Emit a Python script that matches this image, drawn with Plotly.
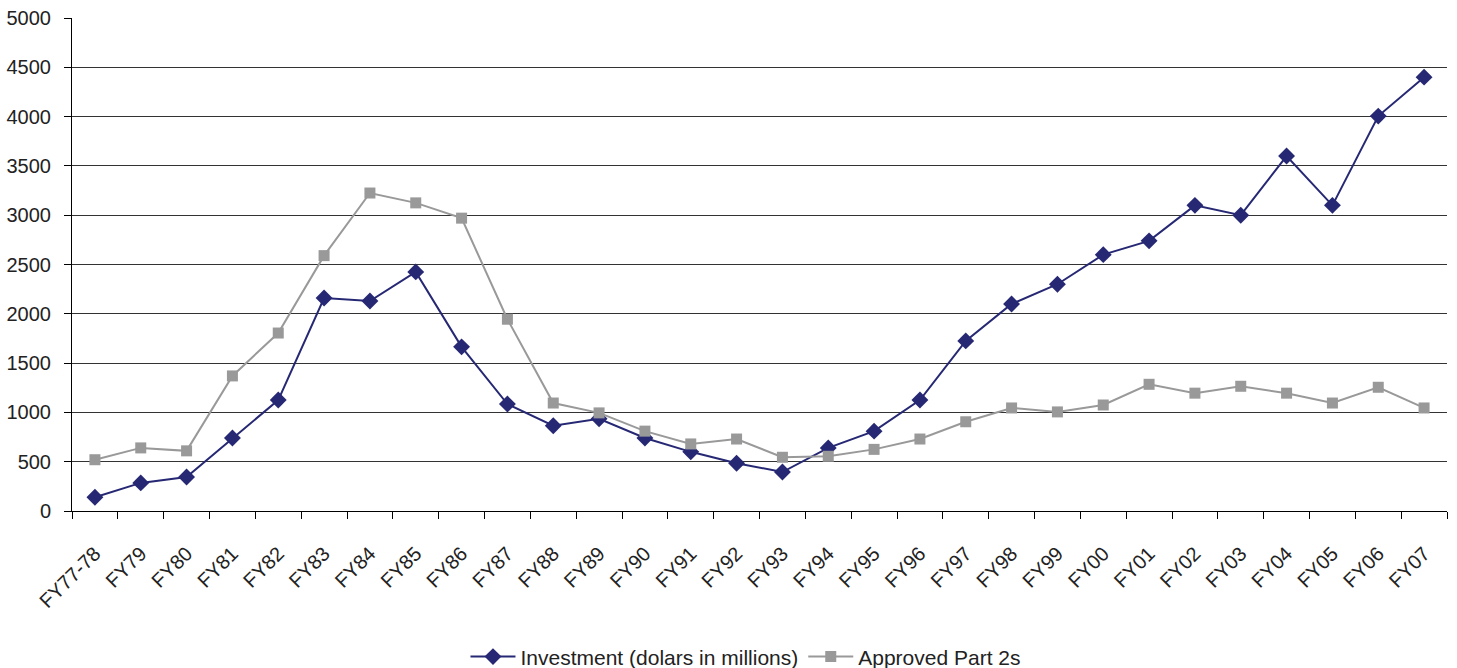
import plotly.graph_objects as go

years = ["FY77-78", "FY79", "FY80", "FY81", "FY82", "FY83", "FY84", "FY85", "FY86",
         "FY87", "FY88", "FY89", "FY90", "FY91", "FY92", "FY93", "FY94", "FY95",
         "FY96", "FY97", "FY98", "FY99", "FY00", "FY01", "FY02", "FY03", "FY04",
         "FY05", "FY06", "FY07"]

investment = [140, 285, 345, 740, 1125, 2160, 2130, 2425, 1665, 1085, 865, 935, 740,
              600, 485, 395, 640, 810, 1125, 1725, 2100, 2300, 2600, 2740, 3100, 3000,
              3600, 3100, 4005, 4400]

approved_part2s = [520, 640, 610, 1370, 1805, 2590, 3225, 3125, 2970, 1945, 1095, 995,
                   810, 680, 730, 545, 555, 625, 730, 905, 1045, 1005, 1075, 1285, 1195,
                   1265, 1195, 1095, 1255, 1045]

y_ticks = [0, 500, 1000, 1500, 2000, 2500, 3000, 3500, 4000, 4500, 5000]

navy = "#262874"
gray = "#999999"

fig = go.Figure()
fig.add_trace(go.Scatter(
    x=years, y=investment, name="Investment (dolars in millions)",
    mode="lines+markers",
    line=dict(color=navy, width=2),
    marker=dict(symbol="diamond", size=13, color=navy),
))
fig.add_trace(go.Scatter(
    x=years, y=approved_part2s, name="Approved Part 2s",
    mode="lines+markers",
    line=dict(color=gray, width=2),
    marker=dict(symbol="square", size=11, color=gray),
))

fig.update_layout(
    width=1457, height=668,
    margin=dict(l=72, r=10, t=18, b=157, autoexpand=False),
    paper_bgcolor="white", plot_bgcolor="white",
    font=dict(family="Liberation Sans, Arial, sans-serif", size=20, color="#222222"),
    showlegend=True,
    legend=dict(orientation="h", x=0.512, xanchor="center", xref="container",
                y=-0.296, yanchor="middle", yref="paper",
                font=dict(size=21), itemwidth=45, tracegroupgap=0),
    xaxis=dict(
        type="category", tickangle=-45, tickson="boundaries",
        ticks="outside", ticklen=7, tickcolor="#000000",
        showline=True, linecolor="#000000", linewidth=1,
        showgrid=False, range=[-0.5, 29.5], fixedrange=True,
        automargin=False, ticklabelstandoff=22,
    ),
    yaxis=dict(
        range=[0, 5000], tickvals=y_ticks,
        ticks="outside", ticklen=7, tickcolor="#000000",
        showline=True, linecolor="#000000", linewidth=1,
        showgrid=True, gridcolor="#333333", gridwidth=1,
        zeroline=False, ticklabelstandoff=9, automargin=False,
    ),
)

fig.write_html("out.html")
